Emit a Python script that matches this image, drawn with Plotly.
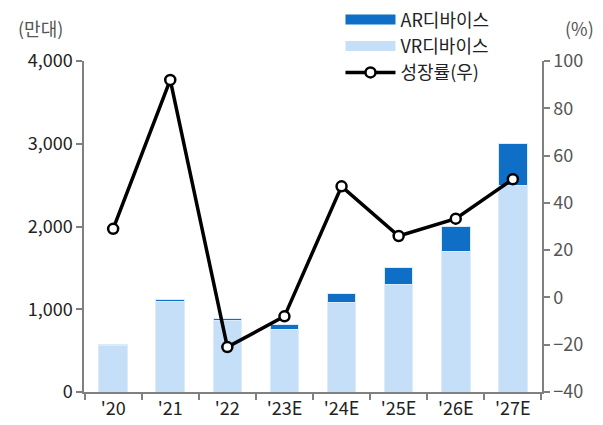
import plotly.graph_objects as go

categories = ["'20", "'21", "'22", "'23E", "'24E", "'25E", "'26E", "'27E"]
vr_values = [560, 1095, 860, 760, 1080, 1300, 1700, 2500]
ar_values = [20, 20, 25, 55, 110, 200, 300, 500]
growth = [29, 92, -21, -8, 47, 26, 33.3, 50]

left_ticks = [0, 1000, 2000, 3000, 4000]
left_labels = ["0", "1,000", "2,000", "3,000", "4,000"]
right_ticks = [-40, -20, 0, 20, 40, 60, 80, 100]

FONT = "Noto Sans CJK KR"
TXT = "#222222"
TXT2 = "#555555"
AX = "#808080"
AR_C = "#0F6FC6"
VR_C = "#C6DFF8"
FS = 18

W, H = 603, 425
L, R, T, B = 84, 61, 61, 33

fig = go.Figure()
fig.add_trace(go.Bar(
    x=categories, y=vr_values, name="VR디바이스",
    marker=dict(color=VR_C, line=dict(color="#DCEBFA", width=1)),
    showlegend=False,
))
fig.add_trace(go.Bar(
    x=categories, y=ar_values, name="AR디바이스",
    marker=dict(color=AR_C, line=dict(color="#DCEBFA", width=1)),
    showlegend=False,
))
fig.add_trace(go.Scatter(
    x=categories, y=growth, name="성장률(우)", yaxis="y2",
    mode="lines+markers",
    line=dict(color="black", width=3.5),
    marker=dict(symbol="circle", size=10, color="white",
                line=dict(color="black", width=2.5)),
    legendrank=3,
))
fig.add_trace(go.Scatter(x=[None], y=[None], mode="lines", name="AR디바이스",
                         line=dict(color=AR_C, width=12), legendrank=1))
fig.add_trace(go.Scatter(x=[None], y=[None], mode="lines", name="VR디바이스",
                         line=dict(color=VR_C, width=12), legendrank=2))

fig.update_layout(
    width=W, height=H,
    margin=dict(l=L, r=R, t=T, b=B, autoexpand=False),
    paper_bgcolor="white", plot_bgcolor="white",
    barmode="stack", bargap=0.5,
    font=dict(family=FONT, size=FS, color=TXT),
    showlegend=True,
    legend=dict(
        x=0.56, y=1.18, xanchor="left", yanchor="top",
        traceorder="normal", bgcolor="rgba(0,0,0,0)",
        font=dict(family=FONT, size=FS, color=TXT),
        itemwidth=50, tracegroupgap=0,
    ),
    xaxis=dict(
        showline=True, linecolor=AX, linewidth=1.5,
        ticks="outside", tickson="boundaries", ticklen=6, tickcolor=AX,
        tickwidth=1.5, showgrid=False, zeroline=False,
        tickfont=dict(family=FONT, size=FS, color=TXT),
    ),
    yaxis=dict(
        range=[0, 4000], tickvals=left_ticks, ticktext=left_labels,
        showline=True, linecolor=AX, linewidth=1.5,
        ticks="outside", ticklen=6, tickcolor=AX, tickwidth=1.5,
        showgrid=False, zeroline=False,
        tickfont=dict(family=FONT, size=FS, color=TXT),
    ),
    yaxis2=dict(
        range=[-40, 100], tickvals=right_ticks, overlaying="y", side="right",
        showline=True, linecolor=AX, linewidth=1.5,
        ticks="outside", ticklen=6, tickcolor=AX, tickwidth=1.5,
        showgrid=False, zeroline=False,
        tickfont=dict(family=FONT, size=FS, color=TXT2),
    ),
    annotations=[
        dict(text="(만대)", x=40, y=28, xref="paper", yref="paper",
             xanchor="center", yanchor="middle",
             showarrow=False, font=dict(family=FONT, size=FS, color=TXT2)),
        dict(text="(%)", x=579, y=28, xref="paper", yref="paper",
             xanchor="center", yanchor="middle",
             showarrow=False, font=dict(family=FONT, size=FS, color=TXT2)),
    ],
)

# convert pixel positions of unit labels to paper coordinates
pw, ph = W - L - R, H - T - B
for a in fig.layout.annotations:
    a.x = (a.x - L) / pw
    a.y = (H - B - a.y) / ph

fig.write_html(
    "out.html",
    config={"displayModeBar": False},
    post_script="document.body.style.margin='0';document.body.style.overflow='hidden';",
)
